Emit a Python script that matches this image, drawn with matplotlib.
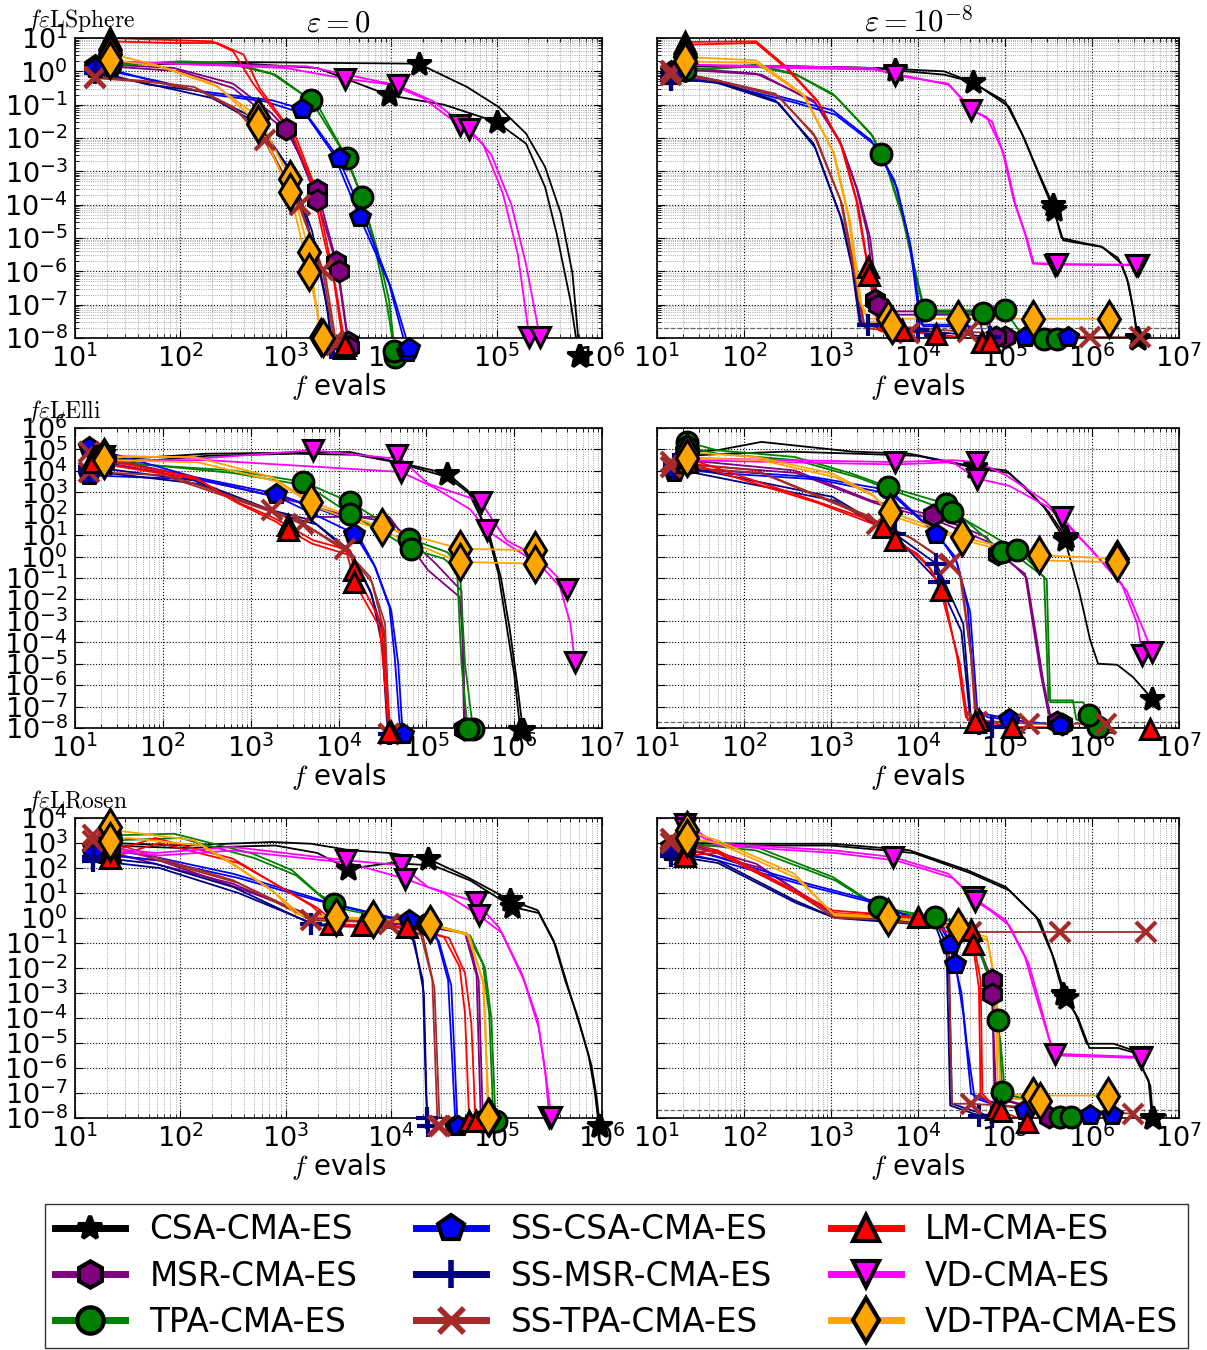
import numpy as np
import matplotlib.pyplot as plt
from matplotlib.ticker import LogLocator, NullLocator
from matplotlib.lines import Line2D

plt.rcParams['mathtext.fontset'] = 'cm'
plt.rcParams['axes.unicode_minus'] = False

# ---------------------------------------------
# algorithms, colours, markers
# ---------------------------------------------
LABELS = ['CSA-CMA-ES', 'MSR-CMA-ES', 'TPA-CMA-ES',
          'SS-CSA-CMA-ES', 'SS-MSR-CMA-ES', 'SS-TPA-CMA-ES',
          'LM-CMA-ES', 'VD-CMA-ES', 'VD-TPA-CMA-ES']
KEYS = ['CSA', 'MSR', 'TPA', 'SSCSA', 'SSMSR', 'SSTPA', 'LM', 'VD', 'VDTPA']
COLORS = ['black', 'purple', 'green', 'blue', 'navy', 'brown', 'red', 'magenta', 'orange']
MARKERS = ['*', 'h', 'o', 'p', '+', 'x', '^', 'v', 'd']
MSIZE = [18, 15, 15, 15, 16, 14, 15, 15, 18]
LEG_MSIZE = [18, 19, 19, 19, 20, 18, 19, 19, 22]

# ---------------------------------------------
# runs: (log10 evals, log10 f, extra marker indices)
# first and last point always get a marker
# ---------------------------------------------
SPHERE_0 = {
    'CSA': [([1.33, 2.5, 3.5, 4.26, 4.72, 5.02, 5.28, 5.46, 5.61, 5.72, 5.79],
             [0.2, 0.28, 0.25, 0.23, -0.47, -1.07, -1.87, -2.87, -4.27, -6.07, -8.55], [3]),
            ([1.33, 2.5, 3.3, 3.98, 4.5, 5.0, 5.28, 5.46, 5.57, 5.7, 5.78],
             [0.2, 0.25, 0.1, -0.72, -1.0, -1.52, -2.17, -3.47, -4.87, -6.87, -8.55], [3, 5])],
    'MSR': [([1.33, 1.94, 2.5, 2.87, 3.0, 3.3, 3.48, 3.59],
             [0.2, 0.1, -0.37, -1.27, -1.72, -3.57, -5.72, -8.12], [4, 5, 6]),
            ([1.33, 2.0, 2.5, 2.85, 3.05, 3.3, 3.5, 3.6],
             [0.15, 0.0, -0.5, -1.4, -1.9, -3.87, -6.0, -8.27], [5, 6])],
    'TPA': [([1.33, 2.0, 2.5, 2.87, 3.24, 3.56, 3.72, 3.87, 3.98, 4.04],
             [0.18, 0.3, 0.25, -0.07, -0.87, -2.5, -3.77, -5.37, -6.87, -8.57], [4, 6]),
            ([1.33, 2.0, 2.5, 2.9, 3.3, 3.58, 3.74, 3.86, 3.96, 4.03],
             [0.18, 0.28, 0.2, -0.1, -1.0, -2.6, -3.9, -5.5, -7.0, -8.4], [5])],
    'SSCSA': [([1.19, 1.7, 2.13, 2.87, 3.15, 3.46, 3.7, 3.98, 4.15],
               [0.18, -0.25, -0.57, -0.87, -1.12, -2.52, -4.37, -6.37, -8.42], [4, 6]),
              ([1.19, 1.8, 2.3, 2.8, 3.2, 3.5, 3.74, 4.0, 4.17],
               [0.1, -0.3, -0.7, -0.9, -1.3, -2.6, -4.4, -6.5, -8.3], [5])],
    'SSMSR': [([1.19, 1.7, 2.2, 2.7, 3.0, 3.2, 3.32, 3.4, 3.43],
               [0.0, -0.4, -0.6, -1.4, -2.8, -4.5, -6.0, -7.2, -8.3], []),
              ([1.19, 1.8, 2.3, 2.75, 3.05, 3.25, 3.36, 3.45],
               [-0.05, -0.45, -0.8, -1.6, -3.0, -4.8, -6.5, -8.3], [])],
    'SSTPA': [([1.19, 1.7, 2.13, 2.5, 2.8, 3.13, 3.35, 3.46],
               [-0.17, -0.3, -0.47, -1.07, -2.07, -4.07, -5.97, -8.1], [4, 6]),
              ([1.19, 1.8, 2.2, 2.55, 2.85, 3.13, 3.38, 3.48],
               [-0.2, -0.35, -0.6, -1.2, -2.3, -4.0, -6.2, -8.2], [5])],
    'LM': [([1.33, 1.8, 2.3, 2.5, 2.69, 3.06, 3.24, 3.35, 3.46, 3.55],
            [1.0, 0.95, 0.9, 0.6, -0.37, -1.87, -3.27, -4.87, -6.37, -8.3], []),
           ([1.33, 1.9, 2.35, 2.6, 2.75, 3.1, 3.27, 3.38, 3.48, 3.56],
            [0.9, 0.85, 0.85, 0.5, -0.5, -2.0, -3.4, -5.0, -6.6, -8.2], [])],
    'VD': [([1.33, 2.2, 3.0, 3.56, 4.0, 4.3, 4.65, 4.87, 5.06, 5.2, 5.31],
            [0.3, 0.2, 0.1, -0.22, -0.4, -0.8, -1.62, -2.17, -3.67, -5.47, -7.97], [3, 6]),
           ([1.33, 2.2, 3.2, 4.06, 4.4, 4.74, 4.95, 5.14, 5.28, 5.41],
            [0.3, 0.2, 0.15, -0.42, -0.9, -1.72, -2.5, -4.0, -5.8, -7.97], [3, 5])],
    'VDTPA': [([1.33, 1.76, 2.31, 2.74, 3.04, 3.22, 3.33],
               [0.53, 0.2, -0.37, -1.37, -3.22, -5.42, -7.97], [3, 4, 5]),
              ([1.33, 1.8, 2.35, 2.74, 3.04, 3.22, 3.35],
               [0.35, 0.15, -0.45, -1.57, -3.62, -6.02, -8.0], [3, 4, 5])],
}

SPHERE_8 = {
    'CSA': [([1.32, 2.5, 3.5, 3.73, 4.3, 4.63, 5.05, 5.23, 5.4, 5.56, 5.67, 5.89, 6.12, 6.34, 6.42, 6.49, 6.53],
             [0.15, 0.15, 0.1, 0.03, -0.1, -0.32, -1.07, -2.07, -3.17, -4.17, -5.07, -5.17, -5.27, -5.77, -6.37, -7.37, -8.02], [3, 5, 9]),
            ([1.32, 2.5, 3.5, 4.3, 4.6, 5.0, 5.2, 5.38, 5.55, 5.65, 5.9, 6.1, 6.3, 6.4, 6.48, 6.52],
             [0.15, 0.15, 0.1, 0.0, -0.3, -0.9, -1.9, -3.0, -4.0, -5.0, -5.15, -5.25, -5.6, -6.2, -7.2, -8.0], [8])],
    'MSR': [([1.32, 2.14, 2.8, 3.1, 3.29, 3.42, 3.51, 3.55, 4.8, 4.85, 5.0],
             [0.1, -0.07, -0.87, -2.07, -3.47, -4.87, -6.87, -7.2, -7.2, -7.97, -7.97], [6]),
            ([1.32, 2.2, 2.82, 3.12, 3.31, 3.45, 3.54, 3.58, 4.7, 4.75, 4.9],
             [0.05, -0.1, -0.95, -2.2, -3.6, -5.0, -7.0, -7.3, -7.3, -7.97, -7.97], [6])],
    'TPA': [([1.32, 2.14, 2.58, 3.02, 3.46, 3.57, 3.64, 3.82, 3.95, 4.04, 4.08, 5.0, 5.22, 5.45],
             [0.03, 0.2, -0.07, -0.67, -1.87, -2.47, -2.87, -4.37, -5.87, -6.87, -7.17, -7.17, -8.0, -8.02], [5, 10, 11]),
            ([1.32, 2.14, 2.6, 3.05, 3.48, 3.66, 3.84, 3.97, 4.06, 4.1, 4.75, 4.85, 5.6],
             [0.03, 0.15, -0.1, -0.75, -1.95, -2.95, -4.5, -6.0, -7.0, -7.25, -7.25, -8.0, -8.02], [10])],
    'SSCSA': [([1.16, 1.69, 2.58, 3.02, 3.46, 3.73, 3.9, 3.99, 4.04, 4.57, 4.62, 5.23],
               [0.0, -0.27, -0.87, -1.17, -2.07, -3.27, -5.07, -6.87, -7.6, -7.6, -8.0, -7.97], []),
              ([1.16, 1.7, 2.6, 3.05, 3.5, 3.76, 3.92, 4.01, 4.06, 4.6, 4.65, 5.72],
               [-0.1, -0.35, -0.95, -1.3, -2.2, -3.5, -5.3, -7.0, -7.65, -7.65, -8.0, -7.97], [])],
    'SSMSR': [([1.16, 1.69, 2.36, 2.8, 3.11, 3.24, 3.33, 3.42, 4.0, 4.83],
               [-0.27, -0.3, -0.87, -2.17, -4.37, -5.87, -7.57, -7.62, -7.77, -7.97], [7, 8]),
              ([1.16, 1.7, 2.4, 2.82, 3.13, 3.26, 3.35, 3.6, 4.2],
               [-0.2, -0.35, -0.95, -2.3, -4.5, -6.0, -7.6, -7.7, -7.9], [])],
    'SSTPA': [([1.16, 1.69, 2.36, 2.8, 3.11, 3.29, 3.37, 4.57, 5.98, 6.55],
               [0.0, -0.27, -0.67, -1.87, -3.87, -6.37, -7.57, -7.82, -7.97, -7.98], [7, 8]),
              ([1.16, 1.72, 2.4, 2.83, 3.13, 3.31, 3.39, 3.9],
               [-0.1, -0.3, -0.75, -2.0, -4.0, -6.5, -7.7, -7.85], [])],
    'LM': [([1.32, 2.14, 2.49, 2.84, 3.11, 3.29, 3.42, 3.55, 3.82, 4.74],
            [0.88, 0.9, 0.13, -0.87, -2.17, -3.87, -5.87, -7.77, -7.77, -8.12], [6, 8]),
           ([1.32, 2.14, 2.5, 2.86, 3.13, 3.31, 3.44, 3.57, 4.21, 4.83],
            [0.8, 0.85, 0.05, -0.95, -2.3, -4.0, -6.1, -7.8, -7.87, -8.12], [6, 8])],
    'VD': [([1.32, 2.5, 3.5, 3.73, 4.35, 4.61, 4.79, 4.97, 5.1, 5.23, 5.32, 5.58, 6.53],
            [0.2, 0.15, 0.1, -0.12, -0.37, -1.17, -1.37, -2.37, -3.87, -4.87, -5.77, -5.8, -5.82], [3, 5, 11]),
           ([1.32, 2.5, 3.5, 4.35, 4.65, 4.85, 5.0, 5.12, 5.25, 5.33, 5.6, 6.5],
            [0.2, 0.1, 0.05, -0.4, -1.2, -1.5, -2.6, -4.0, -5.0, -5.75, -5.78, -5.8], [10])],
    'VDTPA': [([1.32, 2.14, 2.67, 3.02, 3.2, 3.33, 3.42, 3.66, 4.46, 5.32, 6.2],
               [0.43, 0.33, -0.67, -2.37, -4.37, -6.87, -7.42, -7.42, -7.42, -7.42, -7.42], [7, 8, 9]),
              ([1.32, 2.14, 2.7, 3.04, 3.22, 3.35, 3.44, 3.7],
               [0.3, 0.25, -0.75, -2.5, -4.5, -7.0, -7.5, -7.6], [])],
}

ELLI_0 = {
    'CSA': [([1.33, 2.5, 3.5, 4.13, 4.58, 5.24, 5.47, 5.69, 5.82, 5.91, 6.0, 6.07],
             [4.5, 4.8, 4.85, 4.88, 4.49, 3.87, 3.09, 1.22, -0.8, -3.13, -5.47, -8.1], [5]),
            ([1.33, 2.5, 3.5, 4.2, 4.65, 5.25, 5.5, 5.72, 5.85, 5.95, 6.03, 6.1],
             [4.3, 4.7, 4.8, 4.75, 4.4, 3.7, 2.9, 1.0, -1.0, -3.4, -5.8, -8.1], [])],
    'MSR': [([1.33, 2.36, 3.6, 3.69, 4.58, 5.02, 5.38, 5.42, 5.44],
             [4.6, 3.71, 2.47, 1.85, 1.85, -0.64, -1.89, -4.0, -8.03], []),
            ([1.33, 2.4, 3.5, 4.0, 4.6, 5.1, 5.4, 5.43],
             [4.4, 3.6, 2.6, 2.0, 1.6, -0.3, -1.6, -8.03], [])],
    'TPA': [([1.29, 2.8, 3.6, 4.13, 4.8, 5.24, 5.38, 5.44, 5.53],
             [4.41, 4.02, 3.48, 2.55, 0.84, 0.2, -0.49, -5.0, -8.03], [2, 3, 4]),
            ([1.29, 2.8, 3.65, 4.13, 4.82, 5.2, 5.35, 5.4, 5.47],
             [4.5, 3.9, 3.3, 2.0, 0.37, -0.1, -0.6, -5.0, -8.03], [3, 4])],
    'SSCSA': [([1.16, 2.36, 3.29, 4.13, 4.4, 4.58, 4.64, 4.69, 4.71],
               [5.11, 3.71, 2.94, 1.69, -0.33, -2.35, -4.69, -7.5, -8.3], [2]),
              ([1.16, 2.4, 3.3, 4.18, 4.42, 4.6, 4.68, 4.72, 4.74],
               [3.79, 3.6, 2.8, 1.07, -0.5, -2.5, -5.0, -7.6, -8.3], [3])],
    'SSMSR': [([1.16, 2.36, 3.24, 3.69, 4.13, 4.36, 4.53, 4.57, 4.59],
               [4.2, 3.55, 2.16, 1.7, 0.29, -1.58, -3.91, -7.5, -8.3], []),
              ([1.16, 2.4, 3.3, 3.75, 4.15, 4.38, 4.5, 4.55, 4.57],
               [4.0, 3.4, 2.0, 1.5, 0.1, -1.8, -4.2, -7.6, -8.3], [])],
    'SSTPA': [([1.16, 1.91, 3.24, 3.6, 4.07, 4.36, 4.53, 4.57, 4.58],
               [4.88, 4.02, 2.16, 1.54, 0.37, -0.95, -3.13, -7.5, -8.3], [2, 3, 4]),
              ([1.16, 2.0, 3.3, 3.65, 4.1, 4.38, 4.52, 4.56, 4.57],
               [3.95, 3.8, 2.0, 1.4, 0.2, -1.2, -3.5, -7.6, -8.3], [])],
    'LM': [([1.2, 2.36, 2.8, 3.24, 3.42, 3.71, 4.13, 4.18, 4.49, 4.53, 4.58, 4.6],
            [4.6, 3.71, 2.62, 1.85, 1.46, 0.76, 0.29, -0.64, -3.13, -5.15, -7.5, -8.2], [4, 7]),
           ([1.2, 2.4, 2.85, 3.3, 3.42, 3.7, 4.1, 4.18, 4.47, 4.52, 4.56, 4.58],
            [4.4, 3.6, 2.5, 1.6, 1.25, 0.6, 0.1, -1.19, -3.3, -5.5, -7.6, -8.2], [4, 7])],
    'VD': [([1.33, 2.5, 3.71, 4.58, 4.67, 5.02, 5.47, 5.62, 5.91, 6.27, 6.49, 6.6],
            [4.7, 4.6, 4.96, 4.6, 4.72, 3.4, 2.78, 2.55, 0.76, -0.02, -0.95, -1.5], [2, 4, 7]),
           ([1.33, 2.5, 3.71, 4.71, 5.1, 5.5, 5.69, 5.95, 6.3, 6.52, 6.64, 6.69],
            [4.5, 4.5, 4.2, 3.95, 3.2, 2.2, 1.22, 0.5, -0.4, -1.4, -3.13, -4.92], [3, 6])],
    'VDTPA': [([1.33, 2.36, 3.24, 3.69, 4.49, 5.38, 6.24],
               [4.65, 4.65, 3.71, 2.55, 1.38, 0.37, 0.29], [3, 4, 5]),
              ([1.33, 2.4, 3.3, 3.75, 4.5, 5.38, 6.24],
               [4.5, 4.4, 3.5, 2.3, 1.2, -0.25, -0.33], [5])],
}

ELLI_8 = {
    'CSA': [([1.34, 1.69, 2.2, 3.24, 3.9, 4.66, 5.01, 5.23, 5.45, 5.69, 5.85, 5.98, 6.07, 6.29, 6.47, 6.69],
             [4.9, 4.96, 5.35, 4.9, 4.8, 4.18, 4.02, 3.25, 2.31, 0.76, -1.58, -3.91, -5.0, -5.05, -5.62, -6.63], [5, 9]),
            ([1.34, 1.8, 2.5, 3.3, 4.0, 4.7, 5.05, 5.25, 5.5, 5.7],
             [4.7, 4.8, 4.9, 4.8, 4.7, 4.1, 3.9, 3.1, 2.1, 0.9], [])],
    'MSR': [([1.34, 2.58, 3.46, 4.17, 4.79, 4.92, 5.23, 5.32, 5.41, 5.5, 5.65],
             [4.5, 4.02, 2.62, 1.92, 0.91, 0.14, -0.8, -3.13, -5.47, -7.33, -7.8], [3, 5]),
            ([1.34, 2.6, 3.5, 4.2, 4.8, 5.0, 5.25, 5.35, 5.44, 5.52, 5.6],
             [4.3, 3.9, 2.5, 1.7, 0.7, 0.0, -1.0, -3.5, -5.8, -7.4, -7.7], [])],
    'TPA': [([1.34, 1.69, 2.58, 3.24, 3.66, 4.32, 4.97, 5.14, 5.45, 5.5, 5.78, 5.82, 6.07],
             [5.35, 4.96, 4.65, 3.87, 3.25, 2.47, 0.21, 0.0, -0.95, -6.71, -6.71, -7.6, -7.95], [4, 5, 6]),
            ([1.34, 1.7, 2.6, 3.3, 3.7, 4.39, 5.14, 5.25, 5.48, 5.52, 5.9, 5.96],
             [5.1, 4.8, 4.5, 3.7, 3.1, 2.08, 0.29, -0.1, -1.1, -6.8, -6.8, -7.41], [5, 6])],
    'SSCSA': [([1.19, 1.69, 2.8, 3.68, 4.21, 4.43, 4.57, 4.66, 4.74, 5.05],
               [3.95, 4.02, 3.71, 3.09, 1.07, -0.02, -2.35, -7.02, -7.33, -7.56], [4]),
              ([1.19, 1.7, 2.85, 3.7, 4.25, 4.45, 4.6, 4.68, 4.8, 5.63],
               [4.1, 3.9, 3.6, 2.9, 0.9, -0.3, -2.6, -7.1, -7.5, -7.87], [])],
    'SSMSR': [([1.19, 3.02, 3.73, 4.21, 4.52, 4.61, 4.85],
               [4.3, 2.78, 1.07, -0.33, -3.13, -7.64, -7.95], [2, 3]),
              ([1.19, 3.05, 3.75, 4.24, 4.5, 4.6, 4.7],
               [4.1, 2.6, 0.9, -1.19, -3.5, -7.6, -7.8], [3])],
    'SSTPA': [([1.16, 2.14, 3.46, 3.53, 3.9, 4.37, 4.48, 4.61, 4.66, 5.28, 6.16],
               [4.41, 4.02, 1.85, 1.54, 0.91, -0.33, -0.8, -4.69, -7.64, -7.8, -7.8], [3, 5, 9]),
              ([1.16, 2.2, 3.5, 3.95, 4.4, 4.5, 4.62, 4.68],
               [4.2, 3.9, 1.7, 0.8, -0.5, -1.0, -5.0, -7.7], [])],
    'LM': [([1.34, 2.8, 3.46, 3.6, 3.73, 3.99, 4.13, 4.26, 4.48, 4.57, 4.7, 5.08, 6.67],
            [4.6, 2.62, 1.69, 1.38, 0.76, 0.14, -0.49, -1.58, -5.0, -7.64, -7.64, -7.95, -8.03], [3, 4, 7, 10, 11]),
           ([1.34, 2.85, 3.5, 3.7, 4.0, 4.15, 4.3, 4.45, 4.55, 4.65],
            [4.4, 2.5, 1.5, 1.0, 0.0, -0.6, -1.8, -4.7, -7.5, -7.7], [])],
    'VD': [([1.34, 2.5, 3.73, 4.4, 4.68, 5.01, 5.45, 5.65, 5.89, 6.34, 6.52, 6.58],
            [4.6, 4.5, 4.41, 4.5, 4.41, 3.8, 2.62, 1.85, 0.76, -1.26, -3.13, -4.61], [2, 4, 7]),
           ([1.34, 2.5, 3.73, 4.4, 4.68, 5.05, 5.5, 5.7, 6.0, 6.4, 6.6, 6.69],
            [4.5, 4.4, 4.3, 4.4, 3.64, 3.3, 2.3, 1.5, 0.3, -1.6, -3.5, -4.45], [4])],
    'VDTPA': [([1.34, 2.14, 3.02, 3.46, 3.68, 4.5, 5.39, 6.29],
               [4.88, 4.65, 3.87, 2.94, 2.08, 0.91, 0.06, -0.1], [4, 5, 6]),
              ([1.34, 2.2, 3.05, 3.5, 3.7, 4.5, 5.41, 6.29],
               [4.6, 4.5, 3.7, 2.8, 1.9, 0.8, -0.18, -0.26], [])],
}

ROSEN_0 = {
    'CSA': [([1.33, 2.0, 2.87, 3.24, 3.61, 3.98, 4.35, 4.72, 5.13, 5.39, 5.54, 5.65, 5.76, 5.87, 5.93, 5.97],
             [3.0, 2.9, 3.04, 2.97, 2.71, 2.6, 2.37, 1.64, 0.71, 0.31, -0.89, -2.49, -3.83, -5.43, -6.89, -8.3], [6, 8]),
            ([1.33, 2.0, 2.9, 3.3, 3.59, 4.0, 4.4, 4.75, 5.15, 5.4, 5.56, 5.68, 5.79, 5.9, 5.95, 5.98],
             [2.9, 2.8, 2.9, 2.6, 1.97, 2.2, 2.1, 1.5, 0.44, 0.2, -1.1, -2.8, -4.3, -5.9, -7.2, -8.3], [4, 8])],
    'MSR': [([1.33, 1.76, 2.5, 2.94, 3.24, 4.35, 4.72, 4.83, 4.87],
             [2.64, 2.17, 1.37, 0.57, 0.04, -0.36, -0.63, -2.49, -8.1], []),
            ([1.33, 1.8, 2.55, 3.0, 3.3, 4.3, 4.7, 4.81, 4.85],
             [2.5, 2.3, 1.2, 0.5, 0.0, -0.3, -0.6, -2.3, -8.1], [])],
    'TPA': [([1.33, 1.94, 2.69, 3.06, 3.31, 3.46, 3.98, 4.35, 4.72, 4.87, 4.93, 4.97],
             [3.3, 3.37, 2.57, 1.91, 0.97, 0.57, 0.04, -0.23, -0.63, -1.83, -3.83, -8.1], [5, 7]),
            ([1.33, 2.0, 2.7, 3.1, 3.35, 3.5, 4.0, 4.4, 4.75, 4.89, 4.95, 4.99],
             [3.1, 3.2, 2.4, 1.7, 0.8, 0.4, -0.05, -0.3, -0.7, -2.0, -4.0, -8.1], [])],
    'SSCSA': [([1.17, 1.76, 2.5, 3.24, 3.43, 3.98, 4.17, 4.43, 4.54, 4.61],
               [2.84, 2.44, 1.77, 0.84, 0.57, 0.04, -0.09, -0.76, -2.49, -8.3], [6]),
              ([1.17, 1.8, 2.55, 3.3, 3.5, 4.0, 4.2, 4.45, 4.57, 4.63],
               [2.6, 2.3, 1.6, 0.7, 0.5, 0.0, -0.2, -0.9, -2.7, -8.3], [])],
    'SSMSR': [([1.17, 1.76, 2.5, 3.24, 3.98, 4.2, 4.3, 4.33, 4.35],
               [2.44, 2.17, 1.24, -0.23, -0.36, -0.76, -2.49, -7.0, -8.3], [3]),
              ([1.17, 1.8, 2.55, 3.3, 4.0, 4.22, 4.31, 4.34],
               [2.3, 2.0, 1.0, -0.3, -0.4, -0.9, -3.0, -8.0], [])],
    'SSTPA': [([1.17, 1.76, 2.5, 3.24, 3.61, 3.98, 4.28, 4.39, 4.44],
               [3.31, 2.44, 1.51, -0.09, -0.09, -0.23, -0.63, -2.49, -8.3], [3, 5]),
              ([1.17, 1.8, 2.55, 3.3, 3.7, 4.0, 4.3, 4.41, 4.46],
               [3.1, 2.3, 1.4, -0.1, -0.15, -0.3, -0.7, -2.8, -8.3], [])],
    'LM': [([1.33, 1.76, 2.5, 3.24, 3.43, 3.72, 4.15, 4.5, 4.65, 4.7, 4.74],
            [2.64, 3.2, 2.37, 0.5, -0.23, -0.29, -0.36, -0.76, -1.96, -3.83, -8.1], [4, 5, 6]),
           ([1.33, 1.8, 2.55, 3.3, 3.5, 3.8, 4.2, 4.55, 4.7, 4.76, 4.8],
            [2.4, 3.0, 2.2, 0.4, -0.3, -0.35, -0.4, -0.8, -2.2, -4.2, -8.1], [])],
    'VD': [([1.33, 1.76, 2.5, 3.57, 4.09, 4.35, 4.8, 5.02, 5.24, 5.39, 5.46, 5.5],
            [2.8, 2.6, 2.84, 2.31, 2.11, 1.24, 0.64, -0.36, -2.23, -4.09, -6.09, -7.96], [3, 4, 6]),
           ([1.33, 1.8, 2.5, 3.6, 4.13, 4.5, 4.83, 5.05, 5.26, 5.4, 5.47, 5.52],
            [2.7, 2.5, 2.7, 2.2, 1.57, 1.0, 0.11, -0.6, -2.5, -4.4, -6.4, -7.96], [4, 6])],
    'VDTPA': [([1.33, 1.39, 2.13, 2.5, 2.87, 3.09, 3.48, 3.83, 4.37, 4.72, 4.87, 4.93],
               [3.64, 3.5, 3.11, 2.17, 1.11, 0.17, 0.04, -0.03, -0.23, -0.63, -2.49, -7.96], [6, 7, 8]),
              ([1.33, 1.5, 2.2, 2.55, 2.9, 3.15, 3.5, 3.9, 4.4, 4.74, 4.88, 4.92],
               [3.1, 3.2, 2.9, 2.0, 1.0, 0.1, 0.0, -0.1, -0.3, -0.7, -2.7, -7.96], [])],
}

ROSEN_8 = {
    'CSA': [([1.32, 2.14, 3.02, 3.9, 4.57, 5.01, 5.36, 5.54, 5.67, 5.81, 5.94, 6.25, 6.47, 6.65, 6.69],
             [3.0, 2.97, 2.97, 2.71, 1.91, 1.24, 0.04, -1.43, -3.03, -3.83, -5.03, -5.03, -5.29, -6.49, -8.0], [8]),
            ([1.32, 2.14, 3.0, 3.95, 4.6, 5.05, 5.4, 5.57, 5.7, 5.84, 5.97, 6.3, 6.5, 6.67, 6.7],
             [2.9, 2.9, 2.9, 2.6, 1.8, 1.1, -0.1, -1.7, -3.2, -4.0, -5.2, -5.2, -5.4, -6.7, -8.0], [8])],
    'MSR': [([1.32, 2.14, 3.02, 3.9, 4.61, 4.79, 4.85, 4.88, 5.45, 5.63],
             [3.0, 2.17, 0.17, -0.09, -0.36, -1.96, -2.49, -7.16, -7.69, -7.96], [6]),
            ([1.32, 2.2, 3.05, 3.9, 4.6, 4.8, 4.85, 4.9, 5.4, 5.5],
             [2.8, 2.0, 0.1, -0.1, -0.4, -2.2, -3.03, -7.2, -7.7, -7.96], [6])],
    'TPA': [([1.32, 2.14, 3.02, 3.55, 4.19, 4.61, 4.83, 4.92, 4.97, 5.45, 5.5, 5.63],
             [3.17, 2.84, 1.64, 0.44, 0.04, -0.23, -2.49, -4.09, -6.96, -7.49, -7.9, -7.97], [3, 4, 7, 8]),
            ([1.32, 2.14, 3.05, 3.6, 4.2, 4.6, 4.85, 4.95, 5.0, 5.4, 5.45, 5.76],
             [3.0, 2.7, 1.5, 0.3, 0.0, -0.3, -2.7, -5.0, -7.0, -7.5, -7.95, -7.97], [])],
    'SSCSA': [([1.16, 1.69, 2.58, 3.46, 3.9, 4.26, 4.37, 4.43, 4.52, 4.61, 4.79, 5.23, 5.98],
               [2.9, 2.44, 1.51, 0.71, 0.04, -0.36, -1.03, -1.83, -3.83, -7.03, -7.3, -7.69, -7.89], [6, 11]),
              ([1.16, 1.7, 2.6, 3.5, 3.95, 4.3, 4.42, 4.5, 4.56, 4.65, 4.9, 6.23],
               [2.7, 2.3, 1.4, 0.6, 0.0, -0.4, -1.83, -3.0, -5.0, -7.2, -7.5, -7.89], [6])],
    'SSMSR': [([1.16, 1.69, 2.58, 3.02, 4.21, 4.35, 4.39, 4.85],
               [2.6, 2.31, 0.71, 0.04, -0.23, -1.16, -7.43, -7.96], []),
              ([1.16, 1.7, 2.6, 3.05, 4.2, 4.33, 4.37, 4.7],
               [2.5, 2.2, 0.6, 0.0, -0.3, -1.5, -7.5, -7.9], [])],
    'SSTPA': [([1.16, 1.69, 2.58, 3.02, 3.46, 4.35, 4.61, 5.63, 6.62],
               [3.17, 2.71, 1.11, 0.04, 0.04, -0.23, -0.56, -0.56, -0.56], [6, 7]),
              ([1.16, 1.7, 2.6, 3.05, 3.5, 4.35, 4.39, 4.61, 6.47],
               [3.0, 2.6, 1.0, 0.0, -0.05, -0.36, -7.43, -7.43, -7.83], [7])],
    'LM': [([1.32, 1.69, 3.02, 4.0, 4.61, 4.72, 4.74, 4.9, 5.25],
            [2.6, 2.71, 0.3, 0.04, -0.49, -2.49, -7.03, -7.63, -8.16], [3, 4, 7]),
           ([1.32, 1.7, 3.05, 4.0, 4.63, 4.7, 4.72, 4.95],
            [2.5, 2.6, 0.2, 0.0, -1.03, -2.8, -7.1, -7.7], [4])],
    'VD': [([1.32, 1.69, 3.02, 3.71, 4.35, 4.63, 4.79, 5.01, 5.23, 5.36, 5.5, 5.58, 6.56],
            [3.77, 2.97, 2.71, 2.44, 1.77, 0.84, 0.44, -0.09, -1.56, -3.16, -4.76, -5.43, -5.56], [3, 5, 11]),
           ([1.32, 1.7, 3.05, 3.75, 4.4, 4.65, 4.83, 5.05, 5.27, 5.4, 5.52, 5.6, 6.56],
            [3.6, 2.9, 2.6, 2.3, 1.6, 0.7, 0.3, -0.3, -1.8, -3.4, -5.0, -5.5, -5.6], [5])],
    'VDTPA': [([1.34, 1.69, 2.58, 3.02, 3.66, 4.46, 4.79, 4.88, 4.92, 5.32, 6.18],
               [3.51, 3.11, 1.77, 0.17, 0.04, -0.36, -0.76, -2.49, -7.03, -7.1, -7.1], [4, 5, 9]),
              ([1.34, 1.7, 2.6, 3.05, 3.7, 4.46, 4.8, 4.9, 4.95, 5.4],
               [3.2, 3.0, 1.6, 0.1, 0.0, -0.4, -0.9, -2.8, -7.2, -7.3], [])],
}

PANELS = [SPHERE_0, SPHERE_8, ELLI_0, ELLI_8, ROSEN_0, ROSEN_8]
Y_TOP = [1, 1, 6, 6, 4, 4]          # upper y decade per panel
X_TOP = [6, 7, 7, 7, 6, 7]          # upper x decade per panel
ROW_NAMES = ['LSphere', 'LElli', 'LRosen']
TARGET = 2e-8                       # dashed line in the eps = 1e-8 column

# ---------------------------------------------
# figure
# ---------------------------------------------
fig = plt.figure(figsize=(12.07, 13.5), dpi=100)
W, H = 1207.0, 1350.0
ax_left = [75, 657]
ax_wid = [527, 522]
ax_top = [38, 428, 818]
ax_h = 300

for p, data in enumerate(PANELS):
    row, col = divmod(p, 2)
    ax = fig.add_axes([ax_left[col] / W, 1 - (ax_top[row] + ax_h) / H,
                       ax_wid[col] / W, ax_h / H])

    for k, key in enumerate(KEYS):
        c = COLORS[k]
        m = MARKERS[k]
        open_mark = m in ('+', 'x')
        for xs, ys, marks in data[key]:
            x = 10.0 ** np.array(xs)
            y = 10.0 ** np.array(ys)
            ax.plot(x, y, color=c, lw=1.3, zorder=2)
            idx = [0] + list(marks) + [len(xs) - 1]
            ax.plot(x[idx], y[idx], ls='none', marker=m, ms=MSIZE[k],
                    mfc=c, mec=c if open_mark else 'black',
                    mew=3 if open_mark else 2.2, clip_on=False, zorder=3)

    if col == 1:
        ax.axhline(TARGET, color='0.4', ls='--', lw=0.9, zorder=1)

    ax.set_xscale('log')
    ax.set_yscale('log')
    ax.set_xlim(10, 10.0 ** X_TOP[p])
    ax.set_ylim(1e-8, 10.0 ** Y_TOP[p])
    ax.xaxis.set_major_locator(LogLocator(base=10, numticks=20))
    ax.xaxis.set_minor_locator(LogLocator(base=10, subs=np.arange(2, 10), numticks=20))
    ax.yaxis.set_major_locator(LogLocator(base=10, numticks=30))
    if row == 0:
        ax.yaxis.set_minor_locator(LogLocator(base=10, subs=np.arange(2, 10), numticks=30))
    else:
        ax.yaxis.set_minor_locator(NullLocator())

    ax.grid(True, which='major', ls=':', color='black', lw=0.8)
    ax.grid(True, which='minor', ls=':', color='0.55', lw=0.6)
    ax.set_axisbelow(True)
    ax.tick_params(which='both', direction='in', top=True, right=True, labelsize=19.5)
    ax.tick_params(which='major', length=6, pad=5)
    ax.tick_params(which='minor', length=3)
    if col == 1:
        ax.tick_params(labelleft=False)
    for s in ax.spines.values():
        s.set_linewidth(1.2)

    ax.set_xlabel(r'$f$ evals', fontsize=20, labelpad=-2)
    if row == 0:
        ax.set_title(r'$\varepsilon = 0$' if col == 0 else r'$\varepsilon = 10^{-8}$',
                     fontsize=22, pad=5)
    if col == 0:
        fig.text(27 / W, 1 - (ax_top[row] - 17) / H,
                 r'$f\varepsilon\mathrm{' + ROW_NAMES[row] + '}$',
                 fontsize=17, ha='left', va='center')

# ---------------------------------------------
# legend
# ---------------------------------------------
handles = []
for k in range(len(KEYS)):
    open_mark = MARKERS[k] in ('+', 'x')
    handles.append(Line2D([], [], color=COLORS[k], lw=5, marker=MARKERS[k],
                          ms=LEG_MSIZE[k], mfc=COLORS[k],
                          mec=COLORS[k] if open_mark else 'black',
                          mew=4 if open_mark else 3))
leg = fig.legend(handles, LABELS, ncol=3, loc='lower center',
                 bbox_to_anchor=(0.511, 0.0), borderaxespad=0.05,
                 fontsize=23.5, frameon=True,
                 fancybox=False, edgecolor='black', handlelength=2.15,
                 handletextpad=0.74, columnspacing=1.8, labelspacing=0.4,
                 borderpad=0.3)
leg.get_frame().set_linewidth(1.0)

fig.savefig('out.png', dpi=100)
